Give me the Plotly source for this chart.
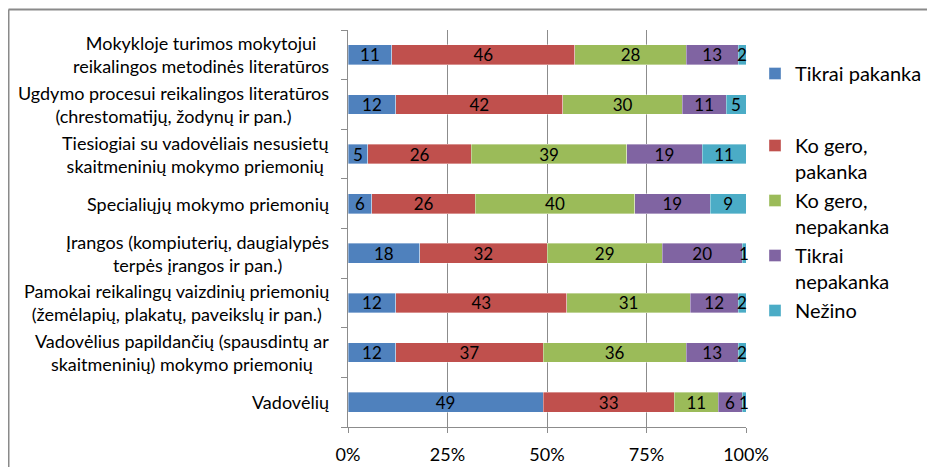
import plotly.graph_objects as go

categories = [
    "Mokykloje turimos mokytojui<br>reikalingos metodinės literatūros",
    "Ugdymo procesui reikalingos literatūros<br>(chrestomatijų, žodynų ir pan.)",
    "Tiesiogiai su vadovėliais nesusietų<br>skaitmeninių mokymo priemonių",
    "Specialiųjų mokymo priemonių",
    "Įrangos (kompiuterių, daugialypės<br>terpės įrangos ir pan.)",
    "Pamokai reikalingų vaizdinių priemonių<br>(žemėlapių, plakatų, paveikslų ir pan.)",
    "Vadovėlius papildančių (spausdintų ar<br>skaitmeninių) mokymo priemonių",
    "Vadovėlių",
]
series_names = ["Tikrai pakanka", "Ko gero,<br>pakanka", "Ko gero,<br>nepakanka",
                "Tikrai<br>nepakanka", "Nežino"]
tikrai_pakanka = [11, 12, 5, 6, 18, 12, 12, 49]
ko_gero_pakanka = [46, 42, 26, 26, 32, 43, 37, 33]
ko_gero_nepakanka = [28, 30, 39, 40, 29, 31, 36, 11]
tikrai_nepakanka = [13, 11, 19, 19, 20, 12, 13, 6]
nezino = [2, 5, 11, 9, 1, 2, 2, 1]
x_ticks = [0, 25, 50, 75, 100]
x_tick_labels = ["0%", "25%", "50%", "75%", "100%"]

series_values = [tikrai_pakanka, ko_gero_pakanka, ko_gero_nepakanka, tikrai_nepakanka, nezino]
colors = ["#4F81BD", "#C0504D", "#9BBB59", "#8064A2", "#4BACC6"]

FONT = "Lato"
OFF = 8  # default page body margin
W, H = 935 - OFF, 467 - OFF
# screen-space plot area: x 348..746, y 30..427
L_M = 348 - OFF
T_M = 30 - OFF
PW = 746 - 348
PH = 427 - 30
R_M = W - L_M - PW
B_M = H - T_M - PH


def sx(px):
    """screen x -> paper x"""
    return (px - OFF - L_M) / PW


def sy(py):
    """screen y -> paper y"""
    return 1 - (py - OFF - T_M) / PH


ypos = list(range(len(categories)))

fig = go.Figure()
for i, (name, vals, col) in enumerate(zip(series_names, series_values, colors)):
    fig.add_trace(go.Bar(
        y=ypos, x=vals, orientation="h", name=name,
        marker=dict(color=col, line=dict(width=0.6, color="rgba(255,255,255,0.6)")),
        text=[str(v) for v in vals], textposition="inside", insidetextanchor="middle",
        textangle=0, textfont=dict(family=FONT, size=17, color="black"),
        cliponaxis=False, legendgroup=f"g{i}",
        legend="legend" if i == 0 else "legend2",
    ))

for yv, cat in zip(ypos, categories):
    fig.add_annotation(
        x=sx(331), xref="paper", y=yv, yref="y", text=cat,
        showarrow=False, xanchor="right", yanchor="middle", align="center",
        font=dict(family=FONT, size=18, color="black"),
    )

# chart frame (left and top edges)
fx = sx(8.5)
fy_top = sy(9.5)
fy_bot = sy(480)
fx_right = sx(960)
fig.add_shape(type="line", xref="paper", yref="paper", x0=fx, x1=fx, y0=fy_bot, y1=fy_top,
              line=dict(color="#8a8a8a", width=2))
fig.add_shape(type="line", xref="paper", yref="paper", x0=fx, x1=fx_right, y0=fy_top, y1=fy_top,
              line=dict(color="#8a8a8a", width=2))

legend_common = dict(
    xanchor="left", yanchor="top",
    font=dict(family=FONT, size=20, color="black"), valign="top",
    traceorder="normal", bgcolor="rgba(0,0,0,0)",
)

fig.update_layout(
    barmode="stack", bargap=0.6,
    width=W, height=H,
    margin=dict(l=L_M, r=R_M, t=T_M, b=B_M, pad=0, autoexpand=False),
    paper_bgcolor="white", plot_bgcolor="white",
    font=dict(family=FONT, size=17, color="black"),
    uniformtext=dict(minsize=17, mode="show"),
    showlegend=True,
    legend=dict(x=sx(755), y=sy(54), **legend_common),
    legend2=dict(x=sx(755), y=sy(126), tracegroupgap=9, **legend_common),
    xaxis=dict(
        range=[0, 100], tickvals=x_ticks, ticktext=x_tick_labels,
        showgrid=True, gridcolor="#8c8c8c", gridwidth=1,
        showline=True, linecolor="#8c8c8c", linewidth=1,
        ticks="outside", ticklen=5, tickcolor="#8c8c8c",
        ticklabelstandoff=6, zeroline=False,
        tickfont=dict(family=FONT, size=18, color="black"), fixedrange=True,
    ),
    yaxis=dict(
        range=[len(categories) - 0.5, -0.5], tickvals=ypos, showticklabels=False,
        ticks="", showgrid=False, zeroline=False,
        showline=True, linecolor="#8c8c8c", linewidth=1,
        minor=dict(tickvals=[k - 0.5 for k in range(len(categories) + 1)],
                   ticks="outside", ticklen=6, tickcolor="#8c8c8c", showgrid=False),
        fixedrange=True,
    ),
)

fig.write_html("out.html")
